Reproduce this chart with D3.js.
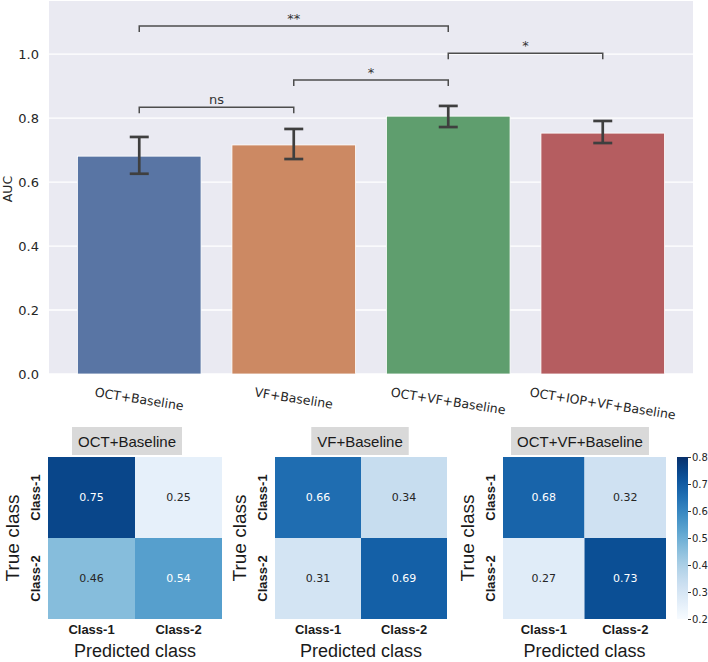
<!DOCTYPE html>
<html>
<head>
<meta charset="utf-8">
<script src="https://cdn.jsdelivr.net/npm/d3@7"></script>
<style>
  body { margin: 0; background: #fff; }
  svg { display: block; }
</style>
</head>
<body>
<svg id="chart" width="708" height="662"></svg>
<script>
// ---------- DATA ----------
const categories = ["OCT+Baseline", "VF+Baseline", "OCT+VF+Baseline", "OCT+IOP+VF+Baseline"];
const aucValues = [0.681, 0.716, 0.806, 0.753];
const errLow = [0.626, 0.672, 0.772, 0.722];
const errHigh = [0.741, 0.766, 0.838, 0.791];
const barColors = ["#5975a4", "#cc8963", "#5f9e6e", "#b55d60"];
const yTicks = [0.0, 0.2, 0.4, 0.6, 0.8, 1.0];
const bracketFrom = [0, 1, 2, 0];
const bracketTo = [1, 2, 3, 2];
const bracketLevel = [0.834, 0.919, 1.003, 1.0875];
const bracketLabel = ["ns", "*", "*", "**"];

const cmTitles = ["OCT+Baseline", "VF+Baseline", "OCT+VF+Baseline"];
const cmValues = [
  [[0.75, 0.25], [0.46, 0.54]],
  [[0.66, 0.34], [0.31, 0.69]],
  [[0.68, 0.32], [0.27, 0.73]]
];
const classLabels = ["Class-1", "Class-2"];
const colorbarTicks = [0.2, 0.3, 0.4, 0.5, 0.6, 0.7, 0.8];

// ---------- BAR CHART ----------
const svg = d3.select("#chart");
const plot = { left: 49, right: 693, top: 1, bottom: 374 };
const y = d3.scaleLinear().domain([0, 1.166]).range([plot.bottom, plot.top]);
const x = d3.scaleBand().domain(categories).range([62, 680]).paddingInner(0.2).paddingOuter(0.1);

svg.append("rect").attr("x", plot.left).attr("y", plot.top)
  .attr("width", plot.right - plot.left).attr("height", plot.bottom - plot.top)
  .attr("fill", "#eaeaf2");

svg.append("g").selectAll("line").data(yTicks).join("line")
  .attr("x1", plot.left).attr("x2", plot.right)
  .attr("y1", d => y(d)).attr("y2", d => y(d))
  .attr("stroke", "#fff").attr("stroke-width", 1.3);

const yAxis = d3.axisLeft(y).tickValues(yTicks).tickFormat(d3.format(".1f")).tickSize(0).tickPadding(10);
const yg = svg.append("g").attr("transform", `translate(${plot.left},0)`).call(yAxis);
yg.select(".domain").remove();
yg.selectAll("text").attr("font-family", "DejaVu Sans").attr("font-size", 13).attr("fill", "#262626");

svg.append("text").attr("transform", `translate(12,189) rotate(-90)`)
  .attr("text-anchor", "middle").attr("font-family", "DejaVu Sans").attr("font-size", 12.5)
  .attr("fill", "#262626").text("AUC");

svg.append("g").selectAll("rect").data(categories).join("rect")
  .attr("x", d => x(d)).attr("width", x.bandwidth())
  .attr("y", (d, i) => y(aucValues[i])).attr("height", (d, i) => y(0) - y(aucValues[i]))
  .attr("fill", (d, i) => barColors[i]).attr("stroke", "#fff").attr("stroke-width", 0.8);

// error bars
const eg = svg.append("g").attr("stroke", "#3f3f3f").attr("stroke-width", 2.7);
categories.forEach((c, i) => {
  const cx = x(c) + x.bandwidth() / 2;
  eg.append("line").attr("x1", cx).attr("x2", cx).attr("y1", y(errLow[i])).attr("y2", y(errHigh[i]));
  eg.append("line").attr("x1", cx - 9.5).attr("x2", cx + 9.5).attr("y1", y(errLow[i])).attr("y2", y(errLow[i]));
  eg.append("line").attr("x1", cx - 9.5).attr("x2", cx + 9.5).attr("y1", y(errHigh[i])).attr("y2", y(errHigh[i]));
});

// x tick labels, rotated
const xl = svg.append("g");
categories.forEach((c, i) => {
  const cx = x(c) + x.bandwidth() / 2;
  const t = xl.append("text").attr("font-family", "DejaVu Sans").attr("font-size", 12.5)
    .attr("fill", "#262626").attr("text-anchor", "middle").attr("dominant-baseline", "central").text(c);
  const w = t.node().getComputedTextLength();
  const ang = 9 * Math.PI / 180;
  const h = 14;
  const cy = 385 + (w * Math.sin(ang) + h * Math.cos(ang)) / 2;
  t.attr("transform", `translate(${cx},${cy}) rotate(9)`);
});

// significance brackets
const bg = svg.append("g");
bracketLabel.forEach((lab, i) => {
  const x1 = x(categories[bracketFrom[i]]) + x.bandwidth() / 2;
  const x2 = x(categories[bracketTo[i]]) + x.bandwidth() / 2;
  const yy = y(bracketLevel[i]);
  bg.append("path").attr("d", `M${x1},${yy + 6}V${yy}H${x2}V${yy + 6}`)
    .attr("fill", "none").attr("stroke", "#4d4d4d").attr("stroke-width", 1.5);
  bg.append("text").attr("x", (x1 + x2) / 2).attr("y", yy - 3)
    .attr("text-anchor", "middle").attr("font-family", "DejaVu Sans").attr("font-size", 13)
    .attr("fill", "#333").text(lab);
});

// ---------- CONFUSION MATRICES ----------
const color = d3.scaleSequential(d3.interpolateBlues).domain([0.2, 0.8]);
const panelLeft = [48, 275, 503];
const panelRight = [222, 447, 666];
const titleCenter = [127, 360, 580];
const cmTop = 457, cmBottom = 619;

cmValues.forEach((mat, p) => {
  const g = svg.append("g");
  const cx = d3.scaleBand().domain(classLabels).range([panelLeft[p], panelRight[p]]);
  const cy = d3.scaleBand().domain(classLabels).range([cmTop, cmBottom]);

  // title box
  const tt = g.append("text").attr("x", titleCenter[p]).attr("y", 441)
    .attr("text-anchor", "middle").attr("dominant-baseline", "central")
    .attr("font-family", "Liberation Sans").attr("font-size", 15).attr("fill", "#1a1a1a").text(cmTitles[p]);
  const tw = tt.node().getComputedTextLength();
  g.insert("rect", "text").attr("x", titleCenter[p] - tw / 2 - 6).attr("y", 427)
    .attr("width", tw + 12).attr("height", 28).attr("fill", "#d9d9d9");

  mat.forEach((row, r) => {
    row.forEach((v, c) => {
      g.append("rect").attr("x", cx(classLabels[c])).attr("y", cy(classLabels[r]))
        .attr("width", cx.bandwidth()).attr("height", cy.bandwidth()).attr("fill", color(v));
      g.append("text").attr("x", cx(classLabels[c]) + cx.bandwidth() / 2)
        .attr("y", cy(classLabels[r]) + cy.bandwidth() / 2)
        .attr("text-anchor", "middle").attr("dominant-baseline", "central")
        .attr("font-family", "DejaVu Sans").attr("font-size", 11)
        .attr("fill", v > 0.5 ? "#ffffff" : "#262626").text(v.toFixed(2));
    });
  });

  classLabels.forEach(lab => {
    g.append("text").attr("x", cx(lab) + cx.bandwidth() / 2).attr("y", 634)
      .attr("text-anchor", "middle").attr("font-family", "Liberation Sans").attr("font-weight", "bold")
      .attr("font-size", 13).attr("fill", "#1a1a1a").text(lab);
    g.append("text").attr("transform", `translate(${panelLeft[p] - 8},${cy(lab) + cy.bandwidth() / 2}) rotate(-90)`)
      .attr("text-anchor", "middle").attr("font-family", "Liberation Sans").attr("font-weight", "bold")
      .attr("font-size", 13).attr("fill", "#1a1a1a").text(lab);
  });

  g.append("text").attr("transform", `translate(${panelLeft[p] - 29},${(cmTop + cmBottom) / 2}) rotate(-90)`)
    .attr("text-anchor", "middle").attr("font-family", "Liberation Sans").attr("font-size", 19)
    .attr("fill", "#1a1a1a").text("True class");
  g.append("text").attr("x", (panelLeft[p] + panelRight[p]) / 2).attr("y", 657)
    .attr("text-anchor", "middle").attr("font-family", "Liberation Sans").attr("font-size", 18)
    .attr("fill", "#1a1a1a").text("Predicted class");
});

// colorbar
const cbX = 677, cbW = 11;
const cbY = d3.scaleLinear().domain([0.2, 0.8]).range([cmBottom, cmTop]);
const defs = svg.append("defs");
const grad = defs.append("linearGradient").attr("id", "cbgrad")
  .attr("x1", 0).attr("y1", 1).attr("x2", 0).attr("y2", 0);
d3.range(0, 1.0001, 0.05).forEach(t => {
  grad.append("stop").attr("offset", t).attr("stop-color", color(0.2 + 0.6 * t));
});
svg.append("rect").attr("x", cbX).attr("y", cmTop).attr("width", cbW).attr("height", cmBottom - cmTop)
  .attr("fill", "url(#cbgrad)");
const cbAxis = d3.axisRight(cbY).tickValues(colorbarTicks).tickFormat(d3.format(".1f")).tickSize(3).tickPadding(1);
const cg = svg.append("g").attr("transform", `translate(${cbX + cbW},0)`).call(cbAxis);
cg.select(".domain").remove();
cg.selectAll("line").attr("stroke", "#333");
cg.selectAll("text").attr("font-family", "DejaVu Sans").attr("font-size", 10).attr("fill", "#262626");
</script>
</body>
</html>
